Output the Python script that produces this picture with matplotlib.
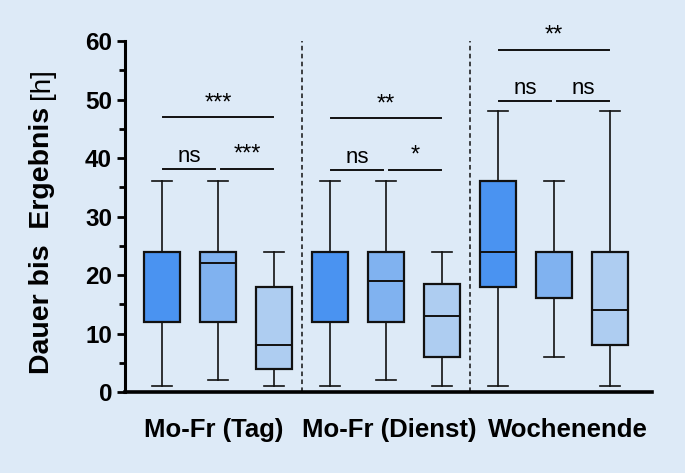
import matplotlib
matplotlib.use("Agg")
import matplotlib.pyplot as plt

plt.rcParams['font.family'] = ['Liberation Sans', 'DejaVu Sans']

# Box statistics (hours)
groups = ['Mo-Fr (Tag)', 'Mo-Fr (Dienst)', 'Wochenende']
whisker_low = [1, 2, 1, 1, 2, 1, 1, 6, 1]
q1 = [12, 12, 4, 12, 12, 6, 18, 16, 8]
median = [24, 22, 8, 24, 19, 13, 24, 24, 14]
q3 = [24, 24, 18, 24, 24, 18.5, 36, 24, 24]
whisker_high = [36, 36, 24, 36, 36, 24, 48, 36, 48]
box_colors = ['#4a93f1', '#80b2f0', '#aecdf1'] * 3

# Significance brackets: (x start, x end, height, label)
brackets = [
    (1.02, 1.95, 38.2, 'ns'), (2.05, 2.98, 38.2, '***'), (1.02, 2.98, 47, '***'),
    (4.02, 4.95, 38.0, 'ns'), (5.05, 5.98, 38.0, '*'), (4.02, 5.98, 46.8, '**'),
    (7.02, 7.95, 49.8, 'ns'), (8.05, 8.98, 49.8, 'ns'), (7.02, 8.98, 58.5, '**'),
]

bg = '#ddeaf7'
fig = plt.figure(figsize=(6.85, 4.73), dpi=100, facecolor=bg)
ax = fig.add_axes([124.5 / 685, 81 / 473, (652 - 124.5) / 685, 351 / 473])
ax.set_facecolor(bg)

stats = []
for i in range(len(median)):
    stats.append({'whislo': whisker_low[i], 'q1': q1[i], 'med': median[i],
                  'q3': q3[i], 'whishi': whisker_high[i], 'fliers': []})

positions = list(range(1, len(stats) + 1))
bp = ax.bxp(stats, positions=positions, widths=0.65, patch_artist=True,
            showfliers=False,
            boxprops=dict(linewidth=1.6, edgecolor='#111111'),
            medianprops=dict(linewidth=1.4, color='#111111'),
            whiskerprops=dict(linewidth=1.2, color='#111111'),
            capprops=dict(linewidth=1.2, color='#111111'),
            capwidths=0.34)
for patch, c in zip(bp['boxes'], box_colors):
    patch.set_facecolor(c)

# group separators
for xs in [3.5, 6.5]:
    ax.plot([xs, xs], [0, 60], ls=(0, (3, 2.2)), lw=1.1, color='#111111')

# significance brackets
for x0, x1, h, lab in brackets:
    ax.plot([x0, x1], [h, h], color='#111111', lw=1.4, clip_on=False)
    xm = (x0 + x1) / 2
    if lab == 'ns':
        ax.annotate(lab, (xm, h), xytext=(0, 4.5), textcoords='offset points',
                    ha='center', va='baseline', fontsize=16)
    else:
        ax.annotate(lab, (xm, h), xytext=(0, 2), textcoords='offset points',
                    ha='center', va='bottom', fontsize=17)

ax.set_xlim(0.33, 9.75)
ax.set_ylim(0, 60)
ax.set_yticks(range(0, 61, 10))
ax.set_yticks(range(5, 60, 10), minor=True)
ax.set_xticks([1.92, 5.05, 8.25])
ax.set_xticklabels(groups, fontsize=18.5, fontweight='bold')
ax.tick_params(axis='x', length=0, pad=19)
ax.tick_params(axis='y', which='major', length=6, width=2, labelsize=17.5, pad=3)
ax.tick_params(axis='y', which='minor', length=4, width=2)
for lab in ax.get_yticklabels():
    lab.set_fontweight('bold')

ax.spines['top'].set_visible(False)
ax.spines['right'].set_visible(False)
ax.spines['left'].set_linewidth(2.2)
ax.spines['bottom'].set_linewidth(2.6)

fig.text(42 / 685, 1 - 240 / 473, 'Dauer bis  Ergebnis', rotation=90,
         ha='center', va='center', fontsize=20.5, fontweight='bold')
fig.text(42 / 685, 1 - 84 / 473, '[h]', rotation=90,
         ha='center', va='center', fontsize=20)

fig.savefig('out.png', dpi=100, facecolor=bg)
